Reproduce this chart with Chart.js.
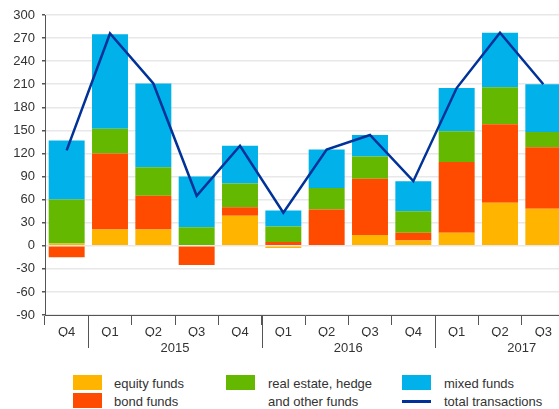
<!DOCTYPE html>
<html lang="en">
<head>
    <meta charset="UTF-8">
    <title>Investment fund transactions</title>
    <script src="https://cdn.jsdelivr.net/npm/chart.js"></script>
    <style>
        body, html {
            margin: 0;
            padding: 0;
            width: 559px;
            height: 409px;
            overflow: hidden;
            background: #fff;
            font-family: "Liberation Sans", Arial, sans-serif;
        }
        #wrap {
            position: relative;
            width: 565px;
            height: 409px;
        }
        #chartBox {
            position: absolute;
            left: 0;
            top: 0;
            width: 565px;
            height: 359px;
        }
        .sw {
            position: absolute;
            width: 29px;
            height: 15px;
        }
        .ln {
            position: absolute;
            width: 29px;
            height: 3px;
        }
        .lt {
            position: absolute;
            font-size: 13px;
            line-height: 16px;
            color: #333;
            white-space: nowrap;
        }
    </style>
</head>
<body>
<div id="wrap">
    <div id="chartBox"><canvas id="fundsChart"></canvas></div>

    <div class="sw" style="left:73px; top:375px; background:#FFB400"></div>
    <div class="lt" style="left:114px; top:376px">equity funds</div>
    <div class="sw" style="left:73px; top:393px; background:#FF4B00"></div>
    <div class="lt" style="left:114px; top:394px">bond funds</div>

    <div class="sw" style="left:226px; top:375px; background:#65B800"></div>
    <div class="lt" style="left:268px; top:376px">real estate, hedge</div>
    <div class="lt" style="left:268px; top:394px">and other funds</div>

    <div class="sw" style="left:402px; top:375px; background:#00B1EA"></div>
    <div class="lt" style="left:444px; top:376px">mixed funds</div>
    <div class="ln" style="left:402px; top:400px; background:#003299"></div>
    <div class="lt" style="left:444px; top:394px">total transactions</div>
</div>

<script>
    const quarters = ['Q4', 'Q1', 'Q2', 'Q3', 'Q4', 'Q1', 'Q2', 'Q3', 'Q4', 'Q1', 'Q2', 'Q3'];
    const years = ['2015', '2016', '2017'];
    const yearCentres = [2.5, 6.5, 10.5];     // middle of each year's four quarters
    const yearBreaks = [0.5, 4.5, 8.5];       // between Q4 and Q1

    const equity     = [3, 21, 21, 0, 39, -3, 1, 14, 7, 17, 56, 48];
    const bond       = [-15, 99, 44, -25, 11, 5, 46, 73, 10, 92, 102, 80];
    const realEstate = [57, 32, 37, 24, 31, 20, 28, 29, 28, 40, 48, 20];
    const mixed      = [77, 123, 109, 66, 49, 21, 50, 28, 39, 56, 71, 62];
    const total      = [124, 276, 211, 65, 130, 43, 125, 144, 84, 205, 277, 210];

    Chart.defaults.font.family = '"Liberation Sans", Arial, sans-serif';
    Chart.defaults.font.size = 13;
    Chart.defaults.color = '#333';

    // longer tick marks separating the years
    const yearTicks = {
        id: 'yearTicks',
        afterDraw(chart) {
            const x = chart.scales.x2;
            const c = chart.ctx;
            c.save();
            c.strokeStyle = '#555';
            c.lineWidth = 1;
            yearBreaks.forEach(v => {
                const px = Math.round(x.getPixelForValue(v)) + 0.5;
                c.beginPath();
                c.moveTo(px, chart.chartArea.bottom);
                c.lineTo(px, 348);
                c.stroke();
            });
            c.restore();
        }
    };

    const bar = (label, data, color) => ({
        type: 'bar', label, data, backgroundColor: color, borderWidth: 0,
        barPercentage: 0.83, categoryPercentage: 1, stack: 'funds', order: 1
    });

    new Chart(document.getElementById('fundsChart').getContext('2d'), {
        data: {
            labels: quarters,
            datasets: [
                {
                    type: 'line', label: 'total transactions', data: total,
                    borderColor: '#003299', borderWidth: 2.5, pointRadius: 0,
                    tension: 0, stack: 'total', order: 0
                },
                bar('equity funds', equity, '#FFB400'),
                bar('bond funds', bond, '#FF4B00'),
                bar('real estate, hedge and other funds', realEstate, '#65B800'),
                bar('mixed funds', mixed, '#00B1EA')
            ]
        },
        options: {
            responsive: true,
            maintainAspectRatio: false,
            animation: false,
            layout: { padding: { top: 15, left: 0, right: 0, bottom: 0 } },
            scales: {
                x: {
                    type: 'category',
                    stacked: true,
                    offset: true,
                    grid: { offset: true, drawOnChartArea: false, tickLength: 10, tickColor: '#555' },
                    border: { color: '#555' },
                    ticks: { padding: 0, maxRotation: 0, autoSkip: false },
                    afterFit: (s) => { s.height = 22; }
                },
                x2: {
                    type: 'linear',
                    position: 'bottom',
                    min: -0.5,
                    max: 11.5,
                    grid: { display: false, drawTicks: false },
                    border: { display: false },
                    afterBuildTicks: (s) => { s.ticks = yearCentres.map(v => ({ value: v })); },
                    ticks: {
                        padding: 4,
                        maxRotation: 0,
                        callback: (v) => years[yearCentres.indexOf(v)]
                    },
                    afterFit: (s) => { s.height = 22; }
                },
                y: {
                    stacked: true,
                    min: -90,
                    max: 300,
                    grid: { color: '#e8e8e8', lineWidth: 1.5, tickLength: 3, tickColor: '#555' },
                    border: { color: '#555' },
                    ticks: { stepSize: 30, padding: 7 },
                    afterFit: (s) => { s.width = 45; }
                }
            },
            plugins: {
                legend: { display: false },
                tooltip: { enabled: false }
            }
        },
        plugins: [yearTicks]
    });
</script>
</body>
</html>
